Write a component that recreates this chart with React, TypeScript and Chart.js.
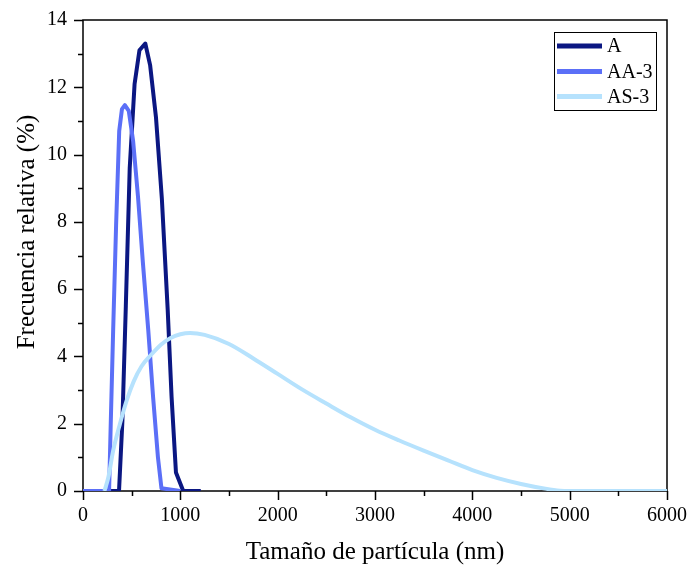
import React, { useEffect, useRef } from "react";
import { Chart, registerables } from "chart.js";

Chart.register(...registerables);

// ---- Data ----
const seriesNames = ["A", "AA-3", "AS-3"];

const xA = [0, 370, 405, 440, 480, 530, 580, 640, 690, 750, 810, 870, 910, 955, 1030, 1210];
const yA = [0, 0, 2.1, 5.5, 9.6, 12.1, 13.1, 13.3, 12.65, 11.1, 8.7, 5.4, 2.8, 0.55, 0, 0];

const xAA3 = [0, 268, 285, 310, 340, 372, 400, 430, 470, 515, 565, 615, 670, 720, 770, 806, 1000];
const yAA3 = [0, 0, 2.0, 4.8, 7.9, 10.7, 11.35, 11.47, 11.3, 10.4, 8.75, 6.8, 4.8, 2.8, 1.0, 0.08, 0];

const xAS3 = [220, 260, 310, 380, 450, 520, 600, 700, 800, 900, 1000, 1100, 1250, 1500, 1750, 2000, 2250, 2500, 2750, 3000, 3250, 3500, 3750, 4000, 4250, 4500, 4750, 4900, 5000, 6000];
const yAS3 = [0, 0.4, 1.2, 2.0, 2.7, 3.25, 3.7, 4.05, 4.35, 4.55, 4.66, 4.7, 4.64, 4.37, 3.94, 3.48, 3.02, 2.6, 2.19, 1.82, 1.5, 1.2, 0.91, 0.62, 0.39, 0.21, 0.07, 0.01, 0, 0];

const xTicksMajor = [0, 1000, 2000, 3000, 4000, 5000, 6000];
const xTicksMinor = [500, 1500, 2500, 3500, 4500, 5500];
const yTicksMajor = [0, 2, 4, 6, 8, 10, 12, 14];
const yTicksMinor = [1, 3, 5, 7, 9, 11, 13];

const xTitle = "Tamaño de partícula (nm)";
const yTitle = "Frecuencia relativa (%)";

const colors = ["#0b1782", "#5b6ff7", "#b6e2fd"];
const FONT = "'Liberation Serif', 'Times New Roman', serif";

const toPoints = (xs: number[], ys: number[]) => xs.map((x, i) => ({ x, y: ys[i] }));

const decorPlugin = {
  id: "decor",
  beforeDatasetsDraw(chart: any) {
    const { ctx, chartArea } = chart;
    const xs = chart.scales.x;
    const ys = chart.scales.y;
    ctx.save();
    ctx.strokeStyle = "#000";
    ctx.lineWidth = 1.5;
    ctx.strokeRect(chartArea.left, chartArea.top, chartArea.right - chartArea.left, chartArea.bottom - chartArea.top);
    ctx.beginPath();
    for (const v of xTicksMajor) {
      const p = Math.round(xs.getPixelForValue(v)) + 0.5;
      ctx.moveTo(p, chartArea.bottom);
      ctx.lineTo(p, chartArea.bottom + 9);
    }
    for (const v of xTicksMinor) {
      const p = Math.round(xs.getPixelForValue(v)) + 0.5;
      ctx.moveTo(p, chartArea.bottom);
      ctx.lineTo(p, chartArea.bottom + 5);
    }
    for (const v of yTicksMajor) {
      const p = Math.round(ys.getPixelForValue(v)) + 0.5;
      ctx.moveTo(chartArea.left, p);
      ctx.lineTo(chartArea.left - 9, p);
    }
    for (const v of yTicksMinor) {
      const p = Math.round(ys.getPixelForValue(v)) + 0.5;
      ctx.moveTo(chartArea.left, p);
      ctx.lineTo(chartArea.left - 5, p);
    }
    ctx.stroke();
    ctx.restore();
  },
  afterDraw(chart: any) {
    const { ctx, chartArea } = chart;
    ctx.save();
    // axis titles
    ctx.fillStyle = "#000";
    ctx.font = `25px ${FONT}`;
    ctx.textAlign = "center";
    ctx.textBaseline = "middle";
    ctx.fillText(xTitle, (chartArea.left + chartArea.right) / 2, 552);
    ctx.save();
    ctx.translate(27, 232);
    ctx.rotate(-Math.PI / 2);
    ctx.fillText(yTitle, 0, 0);
    ctx.restore();
    // legend
    const bx = 554, by = 32, bw = 102, bh = 78;
    ctx.strokeStyle = "#000";
    ctx.lineWidth = 1;
    ctx.strokeRect(bx + 0.5, by + 0.5, bw, bh);
    ctx.font = `20px ${FONT}`;
    ctx.textAlign = "left";
    ctx.textBaseline = "middle";
    const rows = [46, 71.5, 96.5];
    seriesNames.forEach((name, i) => {
      ctx.strokeStyle = colors[i];
      ctx.lineWidth = 5;
      ctx.beginPath();
      ctx.moveTo(557, rows[i]);
      ctx.lineTo(602, rows[i]);
      ctx.stroke();
      ctx.fillStyle = "#000";
      ctx.fillText(name, 607, rows[i] + 1);
    });
    ctx.restore();
  },
};

export default function App() {
  const ref = useRef<HTMLCanvasElement | null>(null);
  useEffect(() => {
    document.body.style.margin = "0";
    if (!ref.current) return;
    const chart = new Chart(ref.current, {
      type: "line",
      data: {
        datasets: [
          {
            label: seriesNames[0],
            data: toPoints(xA, yA),
            borderColor: colors[0],
            borderWidth: 4,
            pointRadius: 0,
            tension: 0,
            borderJoinStyle: "round",
            order: 3,
          },
          {
            label: seriesNames[1],
            data: toPoints(xAA3, yAA3),
            borderColor: colors[1],
            borderWidth: 4,
            pointRadius: 0,
            tension: 0,
            borderJoinStyle: "round",
            order: 2,
          },
          {
            label: seriesNames[2],
            data: toPoints(xAS3, yAS3),
            borderColor: colors[2],
            borderWidth: 4,
            pointRadius: 0,
            cubicInterpolationMode: "monotone",
            borderJoinStyle: "round",
            order: 1,
          },
        ],
      },
      options: {
        animation: false,
        responsive: false,
        devicePixelRatio: 1,
        layout: { padding: { left: 0, right: 22, top: 20, bottom: 0 } },
        plugins: { legend: { display: false }, tooltip: { enabled: false } },
        scales: {
          x: {
            type: "linear",
            min: 0,
            max: 6000,
            grid: { display: false, drawTicks: true, tickLength: 9 },
            border: { display: false },
            ticks: {
              stepSize: 1000,
              color: "#000",
              font: { family: FONT, size: 20 },
              padding: 4,
              maxRotation: 0,
              callback: (v: any) => String(v),
            },
            afterFit: (s: any) => { s.height = 74; },
          },
          y: {
            type: "linear",
            min: 0,
            max: 14,
            grid: { display: false, drawTicks: true, tickLength: 9 },
            border: { display: false },
            ticks: {
              stepSize: 2,
              color: "#000",
              font: { family: FONT, size: 20 },
              padding: 7,
              callback: (v: any) => String(v),
            },
            afterFit: (s: any) => { s.width = 83; },
          },
        },
      },
      plugins: [decorPlugin],
    });
    return () => chart.destroy();
  }, []);
  return (
    <div style={{ width: 691, height: 565 }}>
      <canvas ref={ref} width={691} height={565} style={{ display: "block" }} />
    </div>
  );
}
